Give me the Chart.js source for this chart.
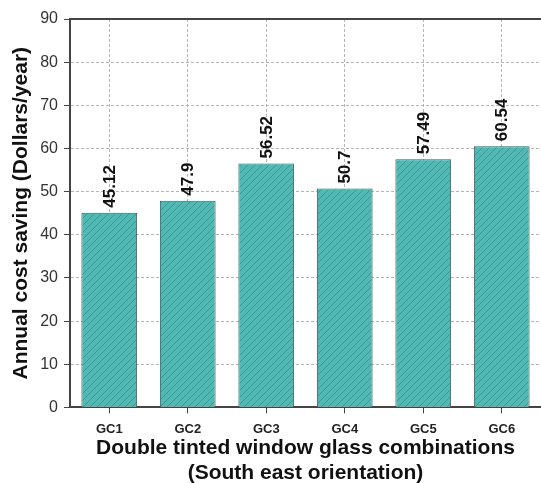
<!DOCTYPE html>
<html>
<head>
<meta charset="utf-8">
<script src="https://cdn.jsdelivr.net/npm/chart.js@4.4.0/dist/chart.umd.min.js"></script>
<style>
    html, body { margin: 0; padding: 0; background: #fff; }
    #wrap { width: 541px; height: 483px; }
</style>
</head>
<body>
<div id="wrap"><canvas id="costChart"></canvas></div>
<script>
// Data
const categories = ['GC1', 'GC2', 'GC3', 'GC4', 'GC5', 'GC6'];
const savings = [45.12, 47.9, 56.52, 50.7, 57.49, 60.54];
const valueLabels = ['45.12', '47.9', '56.52', '50.7', '57.49', '60.54'];

const FONT = 'Arial, "Liberation Sans", sans-serif';

// Hatched teal fill
function makeHatch() {
    const size = 7;
    const c = document.createElement('canvas');
    c.width = size;
    c.height = size;
    const g = c.getContext('2d');
    g.fillStyle = '#52b8b3';
    g.fillRect(0, 0, size, size);
    g.strokeStyle = '#3a9994';
    g.lineWidth = 1;
    g.beginPath();
    g.moveTo(0, size);
    g.lineTo(size, 0);
    g.moveTo(-1, 1);
    g.lineTo(1, -1);
    g.moveTo(size - 1, size + 1);
    g.lineTo(size + 1, size - 1);
    g.stroke();
    return g.createPattern(c, 'repeat');
}

// Value labels above bars, rotated
const barLabels = {
    id: 'barLabels',
    afterDraw(chart) {
        const ctx = chart.ctx;
        const meta = chart.getDatasetMeta(0);
        ctx.save();
        ctx.font = 'bold 17px ' + FONT;
        ctx.fillStyle = '#111';
        ctx.textAlign = 'left';
        ctx.textBaseline = 'middle';
        meta.data.forEach((bar, i) => {
            ctx.save();
            ctx.translate(bar.x, bar.y - 5);
            ctx.rotate(-Math.PI / 2);
            ctx.fillText(valueLabels[i], 0, 1);
            ctx.restore();
        });
        ctx.restore();
    }
};

// Top frame line
const topFrame = {
    id: 'topFrame',
    afterDraw(chart) {
        const { ctx, chartArea } = chart;
        ctx.save();
        ctx.strokeStyle = '#444';
        ctx.lineWidth = 2;
        ctx.beginPath();
        ctx.moveTo(chartArea.left - 1, chartArea.top);
        ctx.lineTo(chart.width, chartArea.top);
        ctx.stroke();
        ctx.restore();
    }
};

const gridStyle = {
    color: '#b5b5b5',
    lineWidth: 1,
    tickColor: '#444',
    tickLength: 6,
    tickBorderDash: []
};
const borderStyle = { color: '#444', width: 2, dash: [3, 2] };

new Chart(document.getElementById('costChart'), {
    type: 'bar',
    data: {
        labels: categories,
        datasets: [{
            data: savings,
            backgroundColor: makeHatch(),
            borderColor: '#3d5f5e',
            borderWidth: 1,
            categoryPercentage: 1,
            barPercentage: 0.71
        }]
    },
    options: {
        responsive: true,
        maintainAspectRatio: false,
        animation: false,
        layout: { padding: { top: 19, right: 0, bottom: 0, left: 9 } },
        plugins: {
            legend: { display: false },
            tooltip: { enabled: false }
        },
        scales: {
            x: {
                z: 1,
                grid: Object.assign({}, gridStyle, { offset: false }),
                border: borderStyle,
                ticks: {
                    color: '#222',
                    font: { family: FONT, size: 13, weight: 'bold' },
                    padding: 8
                },
                title: {
                    display: true,
                    text: ['Double tinted window glass combinations', '(South east orientation)'],
                    color: '#111',
                    font: { family: FONT, size: 21, weight: 'bold', lineHeight: 1.19 },
                    padding: { top: -9, bottom: -3 }
                }
            },
            y: {
                z: 1,
                min: 0,
                max: 90,
                grid: gridStyle,
                border: borderStyle,
                ticks: {
                    stepSize: 10,
                    color: '#333',
                    font: { family: FONT, size: 16 },
                    padding: 6
                },
                title: {
                    display: true,
                    text: 'Annual cost saving (Dollars/year)',
                    color: '#111',
                    font: { family: FONT, size: 21, weight: 'bold' },
                    padding: { top: 0, bottom: 0 }
                }
            }
        }
    },
    plugins: [barLabels, topFrame]
});
</script>
</body>
</html>
